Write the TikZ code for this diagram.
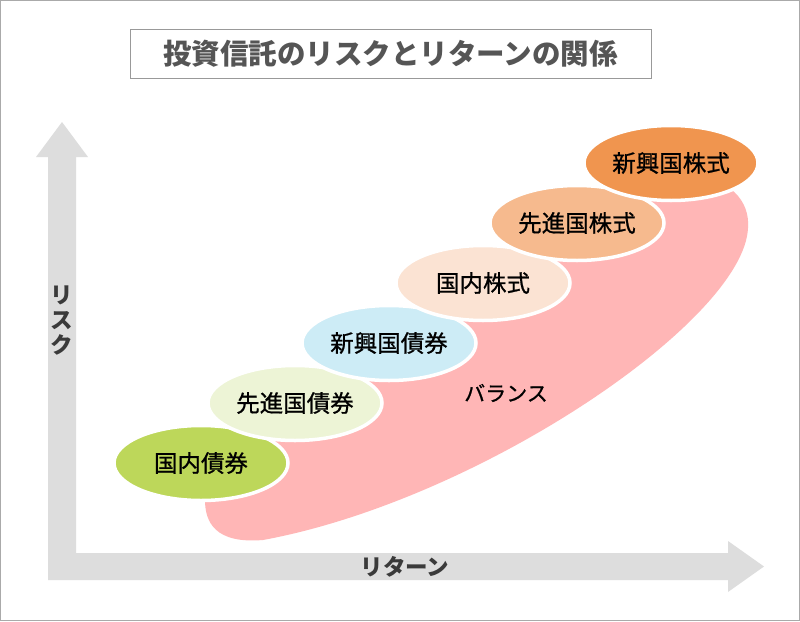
\documentclass[tikz,border=0pt]{standalone}
\usepackage{fontspec}
\setmainfont{Noto Sans CJK JP}
\newfontfamily\medfont{Noto Sans CJK JP}[FakeBold=0.8]
\usetikzlibrary{shapes.geometric}
\definecolor{axisgray}{HTML}{DDDDDD}
\definecolor{framegray}{HTML}{AAAAAA}
\definecolor{titlegray}{HTML}{999999}
\definecolor{titletext}{HTML}{555555}
\definecolor{labeltext}{HTML}{3A3A3A}
\definecolor{balancepink}{HTML}{FFB6B6}
\definecolor{cA}{HTML}{BDD75A}
\definecolor{cB}{HTML}{EDF4D6}
\definecolor{cC}{HTML}{CDECF6}
\definecolor{cD}{HTML}{FBE3D3}
\definecolor{cE}{HTML}{F6BA8E}
\definecolor{cF}{HTML}{F0954F}
\tikzset{
  assetbox/.style={ellipse, draw=white, line width=3.5pt, minimum width=174pt, minimum height=75pt, inner sep=0pt, text=black, font=\medfont\fontsize{23.5}{28}\selectfont},
  axislabel/.style={text=labeltext, font=\bfseries\fontsize{22.5}{25}\selectfont, inner sep=0pt},
}
\begin{document}
\begin{tikzpicture}[x=1pt,y=-1pt]
\useasboundingbox (0,0) rectangle (800,621);
\fill[white] (0,0) rectangle (800,621);
\draw[framegray, line width=1pt] (0.5,0.5) rectangle (799.5,620.5);
% title
\node[draw=titlegray, line width=1pt, minimum width=521pt, minimum height=49pt, inner sep=0pt,
      text=titletext, font=\bfseries\fontsize{28.5}{32}\selectfont] (title) at (390.5,53.5) {投資信託のリスクとリターンの関係};
% axes
\fill[axisgray] (48,580) -- (48,157) -- (36,157) -- (62,122) -- (88,157) -- (76,157) -- (76,553)
   -- (728,553) -- (728,541) -- (764,566.5) -- (728,592) -- (728,580) -- cycle;
\node[axislabel, align=center] (risk) at (62,321) {リ\\ス\\ク};
\node[axislabel] (ret) at (405,567) {リターン};
% balance blob
\fill[balancepink] (205,480) -- (690,172) .. controls (730,180) and (750,200) .. (748,228)
   .. controls (744,320) and (480,500) .. (263,540)
   .. controls (215,544) and (205,522) .. (205,500) -- cycle;
\node[inner sep=0pt, font=\medfont\fontsize{21}{24}\selectfont] (bal) at (506,393) {バランス};
% assets
\node[assetbox, fill=cA] (e1) at (201,463) {国内債券};
\node[assetbox, fill=cB] (e2) at (295,403) {先進国債券};
\node[assetbox, fill=cC] (e3) at (389,343) {新興国債券};
\node[assetbox, fill=cD] (e4) at (483,283) {国内株式};
\node[assetbox, fill=cE] (e5) at (577,223) {先進国株式};
\node[assetbox, fill=cF] (e6) at (671,163) {新興国株式};
\end{tikzpicture}
\end{document}
